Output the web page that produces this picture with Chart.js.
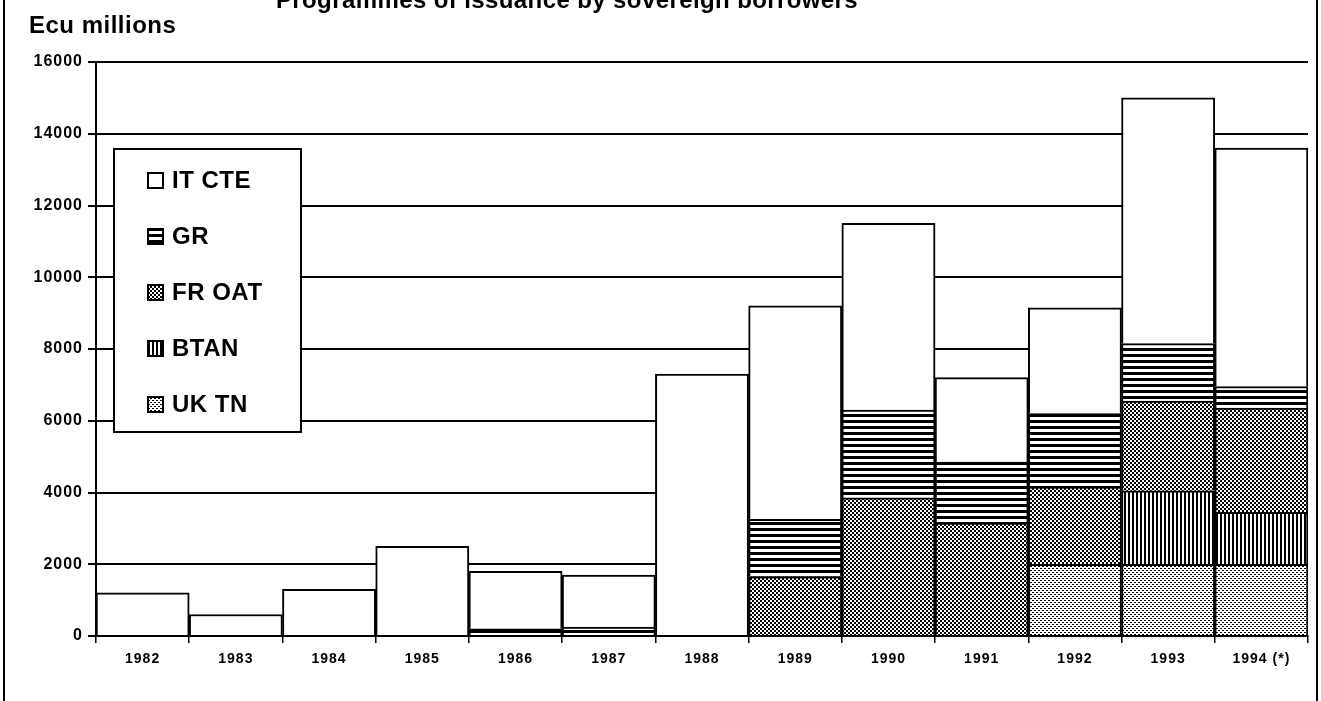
<!DOCTYPE html>
<html>
<head>
<meta charset="utf-8">
<title>Programmes of issuance by sovereign borrowers</title>
<script src="https://cdn.jsdelivr.net/npm/chart.js@4.4.1/dist/chart.umd.min.js"></script>
<style>
  html, body { margin: 0; padding: 0; background: #fff; overflow: hidden; }
  #wrap { position: relative; width: 1321px; height: 701px; font-family: "Liberation Sans", Arial, Helvetica, sans-serif; }
  #frame { position: absolute; left: 3px; top: 0; width: 1315px; height: 701px; box-sizing: border-box;
           border-left: 2px solid #000; border-right: 2px solid #000; pointer-events: none; }
  #title { position: absolute; left: 567px; top: -12px; transform: translateX(-50%); white-space: nowrap;
           font-weight: bold; font-size: 24px; line-height: 24px; letter-spacing: 0.4px; color: #000; }
  #unit { position: absolute; left: 29px; top: 13px; white-space: nowrap;
          font-weight: bold; font-size: 24px; line-height: 24px; letter-spacing: 0.5px; color: #000; }
  #chartBox { position: absolute; left: 0; top: 0; width: 1321px; height: 701px; }
</style>
</head>
<body>
<div id="wrap">
  <div id="chartBox"><canvas id="myChart"></canvas></div>
  <div id="title">Programmes of issuance by sovereign borrowers</div>
  <div id="unit">Ecu millions</div>
  <div id="frame"></div>
</div>
<script>
// categories
const years = ['1982', '1983', '1984', '1985', '1986', '1987', '1988', '1989', '1990', '1991', '1992', '1993', '1994 (*)'];

// series values, Ecu millions
const ukTN  = [null, null, null, null, null, null, null, null, null, null, 2000, 2000, 2000];
const btan  = [null, null, null, null, null, null, null, null, null, null, null, 2050, 1450];
const frOAT = [null, null, null, null, null, null, null, 1650, 3850, 3150, 2150, 2500, 2900];
const gr    = [null, null, null, null, 200, 250, null, 1600, 2450, 1700, 2050, 1600, 600];
const itCTE = [1200, 600, 1300, 2500, 1600, 1450, 7300, 5950, 5200, 2350, 2950, 6850, 6650];

// y axis ticks
const yTicks = [0, 2000, 4000, 6000, 8000, 10000, 12000, 14000, 16000];

const FONT = '"Liberation Sans", Arial, Helvetica, sans-serif';

// small helper to build fill patterns like the printed hatching
function makePattern(w, h, draw) {
    let c = document.createElement('canvas');
    c.width = w;
    c.height = h;
    let g = c.getContext('2d');
    g.fillStyle = '#fff';
    g.fillRect(0, 0, w, h);
    g.fillStyle = '#000';
    draw(g);
    return g.createPattern(c, 'repeat');
}

let fillIT = '#ffffff';
//horizontal stripes
let fillGR = makePattern(4, 6, g => g.fillRect(0, 0, 4, 3));
//dark checker
let fillFR = makePattern(4, 4, g => { g.fillRect(0, 0, 2, 2); g.fillRect(2, 2, 2, 2); });
//vertical stripes
let fillBTAN = makePattern(4, 4, g => g.fillRect(0, 0, 2, 4));
//light dots
let fillUK = makePattern(4, 4, g => { g.fillRect(0, 0, 2, 1); g.fillRect(2, 2, 2, 1); });

function barSet(label, data, fill) {
    return {
        label: label,
        data: data,
        backgroundColor: fill,
        borderColor: '#000',
        borderWidth: 2,
        borderSkipped: 'start',
        barPercentage: 1,
        categoryPercentage: 1
    };
}

//legend box drawn inside the plot, top-left
const legendBox = {
    id: 'legendBox',
    afterDraw(chart) {
        let ctx = chart.ctx;
        let ca = chart.chartArea;
        let x = ca.left + 18, y = ca.top + 87, w = 187, h = 283;
        ctx.save();
        ctx.letterSpacing = '0.5px';
        ctx.fillStyle = '#fff';
        ctx.fillRect(x, y, w, h);
        ctx.lineWidth = 2;
        ctx.strokeStyle = '#000';
        ctx.strokeRect(x, y, w, h);
        ctx.font = 'bold 24px ' + FONT;
        ctx.textBaseline = 'alphabetic';
        let items = chart.data.datasets.slice().reverse();
        items.forEach((d, i) => {
            let base = y + 39 + i * 56;
            ctx.fillStyle = d.backgroundColor;
            ctx.fillRect(x + 34, base - 15, 15, 15);
            ctx.lineWidth = 2;
            ctx.strokeRect(x + 34, base - 15, 15, 15);
            ctx.fillStyle = '#000';
            ctx.fillText(d.label, x + 58, base);
        });
        ctx.restore();
    }
};

const spacing = {
    id: 'spacing',
    beforeDraw(chart) {
        chart.ctx.letterSpacing = '1px';
    }
};

let ctx = document.getElementById('myChart').getContext('2d');

let myChart = new Chart(ctx, {
    type: 'bar',
    data: {
        labels: years,
        datasets: [
            barSet('UK TN', ukTN, fillUK),
            barSet('BTAN', btan, fillBTAN),
            barSet('FR OAT', frOAT, fillFR),
            barSet('GR', gr, fillGR),
            barSet('IT CTE', itCTE, fillIT)
        ]
    },
    options: {
        responsive: true,
        maintainAspectRatio: false,
        animation: false,
        layout: { padding: { top: 62, right: 13, left: 0, bottom: 0 } },
        plugins: {
            legend: { display: false },
            tooltip: { enabled: false },
            title: { display: false }
        },
        scales: {
            x: {
                stacked: true,
                offset: true,
                grid: {
                    display: true,
                    drawOnChartArea: false,
                    drawTicks: true,
                    tickLength: 7,
                    color: '#000',
                    lineWidth: 1.5,
                    offset: true
                },
                border: { display: true, color: '#000', width: 2 },
                ticks: {
                    color: '#000',
                    font: { family: FONT, size: 14, weight: 'bold' },
                    padding: 8,
                    maxRotation: 0,
                    autoSkip: false
                },
                afterFit(scale) { scale.height = 65; }
            },
            y: {
                stacked: true,
                min: 0,
                max: 16000,
                afterBuildTicks(scale) {
                    scale.ticks = yTicks.map(v => ({ value: v }));
                },
                grid: {
                    color: '#000',
                    lineWidth: 2,
                    tickLength: 8
                },
                border: { display: true, color: '#000', width: 2 },
                ticks: {
                    color: '#000',
                    font: { family: FONT, size: 16, weight: 'bold' },
                    padding: 5,
                    callback: v => String(v)
                },
                afterFit(scale) { scale.width = 96; }
            }
        }
    },
    plugins: [spacing, legendBox]
});
</script>
</body>
</html>
